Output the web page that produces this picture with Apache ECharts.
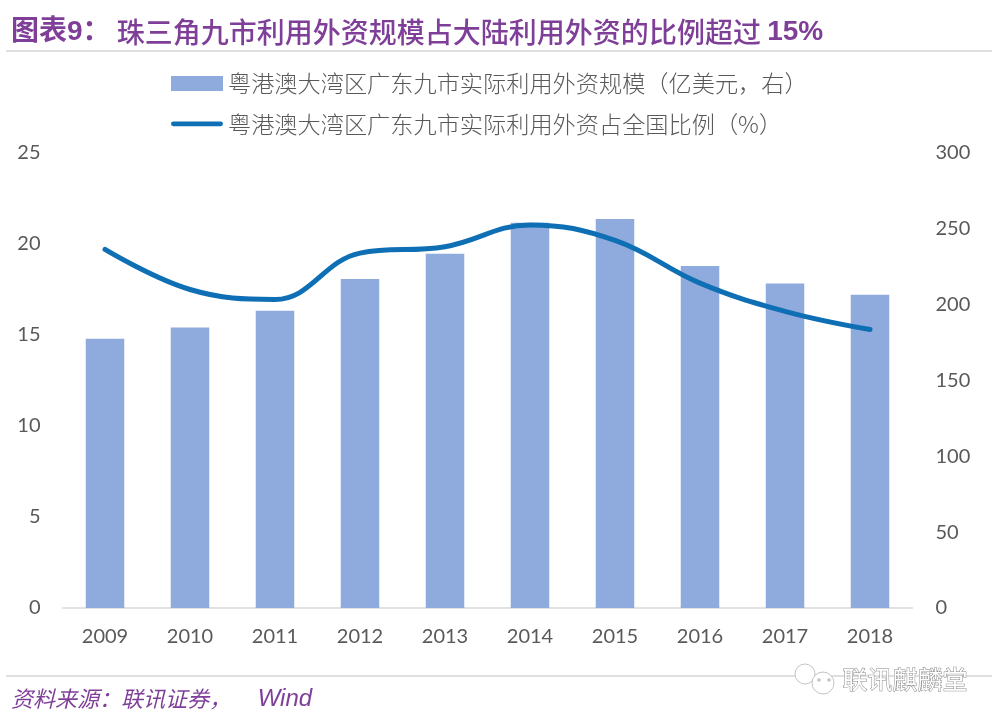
<!DOCTYPE html>
<html><head><meta charset="utf-8">
<style>html,body{margin:0;padding:0;background:#fff}#c{width:1000px;height:723px}</style>
<script src="https://cdn.jsdelivr.net/npm/echarts@6/dist/echarts.min.js"></script>
</head><body><div id="c"></div>
<script>
const categories = ['2009','2010','2011','2012','2013','2014','2015','2016','2017','2018'];
const scaleValues = [177.5,185,196,217,233.5,254,256.5,225.5,214,206.5];
const shareValues = [19.7,17.5,16.95,19.5,19.85,21.05,20.2,17.85,16.3,15.3];
const barName = '粤港澳大湾区广东九市实际利用外资规模（亿美元，右）';
const lineName = '粤港澳大湾区广东九市实际利用外资占全国比例（%）';
const purple = '#7F3F98';
const cjk = '"Noto Sans CJK SC"';
const gray = '#595959';
const chart = echarts.init(document.getElementById('c'), null, {renderer:'canvas'});
chart.setOption({
  animation:false,
  backgroundColor:'#fff',
  title:[
    {left:6,top:13,text:'{b|图表9：}{n| 珠三角九市利用外资规模占大陆利用外资的比例超过 }{b|15%}',
     textStyle:{rich:{
       b:{fontFamily:'"Liberation Sans",'+cjk,fontSize:28,fontWeight:'bold',color:purple},
       n:{fontFamily:cjk,fontSize:28,fontWeight:500,color:purple}}}},
    {left:6,top:682,text:'{a|资料来源：联讯证券，}{w|    Wind}',
     textStyle:{rich:{
       a:{fontFamily:cjk,fontSize:22,fontStyle:'italic',fontWeight:'normal',color:purple},
       w:{fontFamily:'"Liberation Sans"',fontSize:24,fontStyle:'italic',fontWeight:'normal',color:purple}}}}
  ],
  legend:{orient:'vertical',left:166,top:67,itemWidth:52,itemHeight:15,itemGap:17,
    data:[{name:barName,icon:'rect'},
          {name:lineName,icon:'path://M2.5 0H52.5A2.5 2.5 0 0 1 52.5 5H2.5A2.5 2.5 0 0 1 2.5 0Z'}],
    textStyle:{fontFamily:cjk,fontSize:23.2,fontWeight:300,color:gray}},
  grid:{left:62.5,right:87.5,top:153,bottom:115},
  xAxis:{type:'category',data:categories,
    axisLine:{lineStyle:{color:'#D9D9D9',width:1.5}},axisTick:{show:false},
    axisLabel:{fontFamily:'Lato',fontSize:20,color:gray,margin:19}},
  yAxis:[
    {type:'value',min:0,max:25,interval:5,splitLine:{show:false},axisLine:{show:false},axisTick:{show:false},
     axisLabel:{fontFamily:'Lato',fontSize:20,color:gray,margin:22}},
    {type:'value',min:0,max:300,interval:50,splitLine:{show:false},axisLine:{show:false},axisTick:{show:false},
     axisLabel:{fontFamily:'Lato',fontSize:20,color:gray,margin:23}}
  ],
  series:[
    {name:barName,type:'bar',yAxisIndex:1,data:scaleValues,barWidth:38.5,itemStyle:{color:'#8FAADC'}},
    {name:lineName,type:'line',yAxisIndex:0,data:shareValues,smooth:0.4,showSymbol:false,symbol:'none',
     lineStyle:{color:'#0F6FB5',width:5,cap:'round'},itemStyle:{color:'#0F6FB5'},z:5}
  ],
  graphic:[
    {type:'line',shape:{x1:6,y1:51,x2:992,y2:51},style:{stroke:'#BFBFBF',lineWidth:1}},
    {type:'line',shape:{x1:6,y1:676,x2:992,y2:676},style:{stroke:'#BFBFBF',lineWidth:1}},
    {type:'circle',shape:{cx:805,cy:674,r:10},style:{fill:'#fff',stroke:'#C4C4C4',lineWidth:1}},
    {type:'circle',shape:{cx:823,cy:683,r:11},style:{fill:'#fff',stroke:'#C4C4C4',lineWidth:1}},
    {type:'circle',shape:{cx:819,cy:680,r:1.2},style:{fill:'#fff',stroke:'#AAAAAA',lineWidth:1}},
    {type:'circle',shape:{cx:829,cy:680,r:1.2},style:{fill:'#fff',stroke:'#AAAAAA',lineWidth:1}},
    {type:'text',left:842,top:666,style:{text:'联讯麒麟堂',fontFamily:cjk,fontSize:25,fontWeight:400,fill:'#fff',stroke:'#888888',lineWidth:1}}
  ]
});
</script></body></html>
